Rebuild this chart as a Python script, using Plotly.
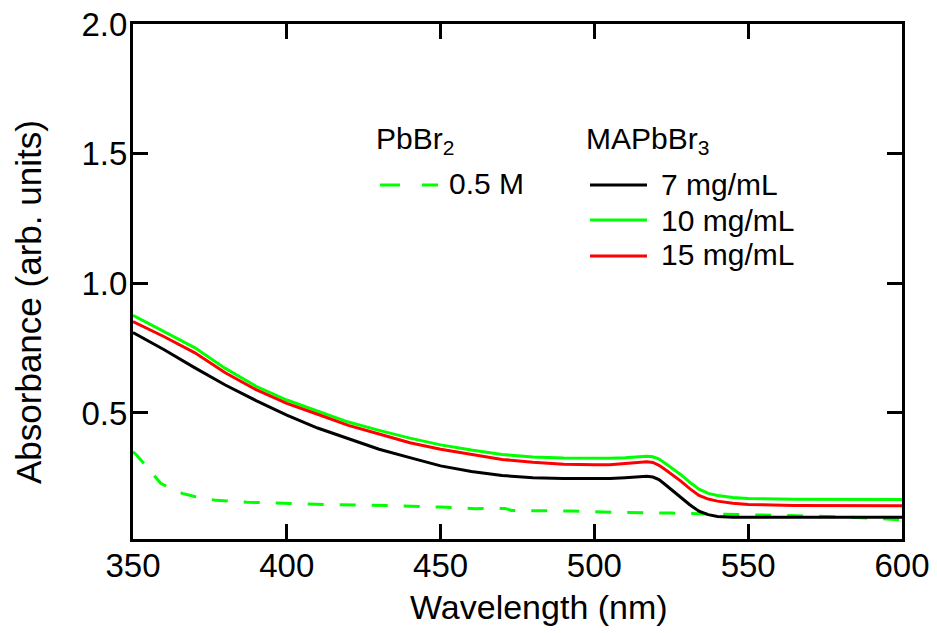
import plotly.graph_objects as go

# Absorbance spectra: PbBr2 precursor and MAPbBr3 films at three concentrations
wl_pbbr2 = [350, 351, 355, 359, 363, 366, 370, 377, 387, 400, 415, 433, 437, 450,
            461, 471, 473, 482, 493, 503, 513, 525, 540, 555, 566, 575, 585, 595, 600]
abs_pbbr2 = [0.350, 0.340, 0.285, 0.229, 0.205, 0.190, 0.178, 0.163, 0.156, 0.150,
             0.146, 0.143, 0.142, 0.137, 0.131, 0.132, 0.124, 0.123, 0.122, 0.118,
             0.117, 0.114, 0.110, 0.106, 0.105, 0.101, 0.097, 0.091, 0.088]

wl_film = [350, 360, 370, 380, 390, 400, 410, 420, 430, 440, 450, 460, 470, 480,
           490, 500, 505, 510, 514, 517, 519, 521, 523, 525, 528, 531, 534, 537,
           540, 545, 550, 565, 600]
abs_7 = [0.810, 0.745, 0.675, 0.608, 0.548, 0.492, 0.442, 0.400, 0.360, 0.328,
         0.296, 0.274, 0.259, 0.250, 0.247, 0.247, 0.247, 0.250, 0.255, 0.256,
         0.253, 0.243, 0.224, 0.204, 0.176, 0.146, 0.121, 0.108, 0.101, 0.098,
         0.098, 0.098, 0.098]
abs_10 = [0.877, 0.815, 0.752, 0.672, 0.603, 0.550, 0.506, 0.465, 0.433, 0.403,
          0.377, 0.357, 0.340, 0.330, 0.326, 0.325, 0.325, 0.327, 0.331, 0.333,
          0.331, 0.322, 0.306, 0.290, 0.263, 0.233, 0.206, 0.190, 0.182, 0.174,
          0.170, 0.167, 0.166]
abs_15 = [0.852, 0.795, 0.733, 0.655, 0.590, 0.537, 0.495, 0.452, 0.419, 0.385,
          0.360, 0.340, 0.321, 0.310, 0.302, 0.300, 0.300, 0.305, 0.310, 0.312,
          0.309, 0.298, 0.282, 0.265, 0.238, 0.208, 0.182, 0.168, 0.160, 0.152,
          0.147, 0.143, 0.142]

x_ticks = [350, 400, 450, 500, 550, 600]
y_ticks = [0.5, 1.0, 1.5, 2.0]

GREEN = "#00ff00"
RED = "#ff0000"
BLACK = "#000000"
FONT = "Liberation Sans, Arial, sans-serif"
LW = 3

fig = go.Figure()
fig.add_trace(go.Scatter(x=wl_pbbr2, y=abs_pbbr2, mode="lines",
                         line=dict(color=GREEN, width=LW, dash="16px,16px"),
                         name="PbBr2 0.5 M"))
fig.add_trace(go.Scatter(x=wl_film, y=abs_7, mode="lines",
                         line=dict(color=BLACK, width=LW), name="7 mg/mL"))
fig.add_trace(go.Scatter(x=wl_film, y=abs_10, mode="lines",
                         line=dict(color=GREEN, width=LW), name="10 mg/mL"))
fig.add_trace(go.Scatter(x=wl_film, y=abs_15, mode="lines",
                         line=dict(color=RED, width=LW), name="15 mg/mL"))

# Plot-area edges in pixels, used to place the hand-built legend and titles
L, R, T, B = 133, 902, 24, 539


def px(xp):
    return (xp - L) / (R - L)


def py(yp):
    return (B - yp) / (B - T)


legend_text = [
    ("PbBr<sub>2</sub>", 374, 140),
    ("0.5 M", 447, 183),
    ("MAPbBr<sub>3</sub>", 584, 140),
    ("7 mg/mL", 659, 184),
    ("10 mg/mL", 659, 220),
    ("15 mg/mL", 659, 254),
]
for txt, xp, yp in legend_text:
    fig.add_annotation(x=px(xp), y=py(yp), xref="paper", yref="paper",
                       text=txt, showarrow=False, xanchor="left",
                       yanchor="middle", font=dict(family=FONT, size=30,
                                                   color="black"))

legend_lines = [
    (380, 438, 185, GREEN, "20px,22px"),
    (590, 647, 185, BLACK, "solid"),
    (590, 647, 220, GREEN, "solid"),
    (590, 647, 256, RED, "solid"),
]
for x0, x1, yp, col, dash in legend_lines:
    fig.add_shape(type="line", xref="paper", yref="paper",
                  x0=px(x0), x1=px(x1), y0=py(yp), y1=py(yp),
                  line=dict(color=col, width=LW, dash=dash))

# Axis titles
fig.add_annotation(x=px(539), y=py(607), xref="paper", yref="paper",
                   text="Wavelength (nm)", showarrow=False,
                   xanchor="center", yanchor="middle",
                   font=dict(family=FONT, size=34, color="black"))
fig.add_annotation(x=px(28), y=py(302), xref="paper", yref="paper",
                   text="Absorbance (arb. units)", showarrow=False,
                   textangle=-90, xanchor="center", yanchor="middle",
                   font=dict(family=FONT, size=35, color="black"))

axis_common = dict(showline=True, linewidth=3, linecolor="black", mirror="ticks",
                   ticks="inside", ticklen=15, tickwidth=3, tickcolor="black",
                   showgrid=False, zeroline=False, automargin=False,
                   tickfont=dict(family=FONT, size=33, color="black"))

fig.update_xaxes(range=[350, 600], tickvals=x_ticks, ticklabelstandoff=-5,
                 **axis_common)
fig.update_yaxes(range=[0.014, 2.0], tickvals=y_ticks, tickformat=".1f",
                 ticklabelstandoff=-4, **axis_common)

fig.update_layout(width=937, height=633, showlegend=False,
                  margin=dict(l=133, r=35, t=24, b=94, autoexpand=False),
                  plot_bgcolor="white", paper_bgcolor="white",
                  font=dict(family=FONT, color="black"))

fig.write_html("out.html")
